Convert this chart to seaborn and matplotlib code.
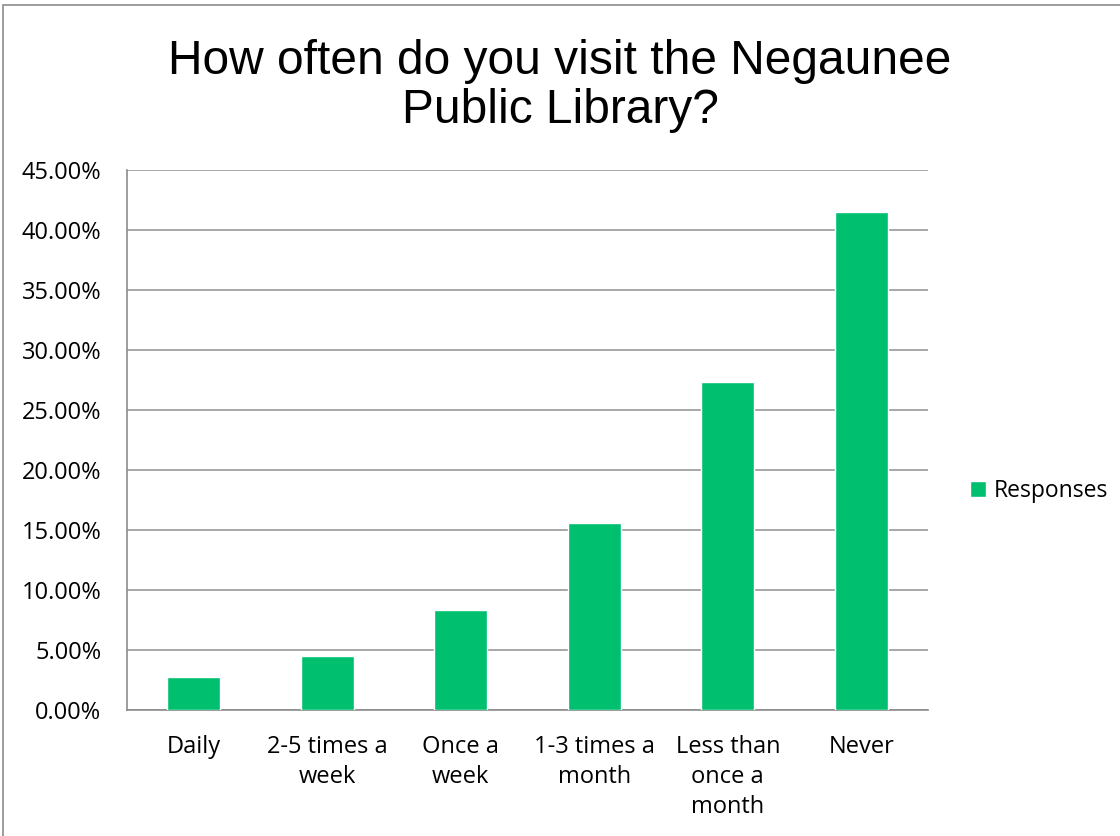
import matplotlib
matplotlib.use("Agg")
import matplotlib.pyplot as plt
import seaborn as sns
import pandas as pd
from matplotlib.patches import Rectangle
from matplotlib.ticker import PercentFormatter, FixedLocator

# ── Data ──────────────────────────────────────────────
categories = ["Daily", "2-5 times a\nweek", "Once a\nweek", "1-3 times a\nmonth",
              "Less than\nonce a\nmonth", "Never"]
responses = [0.0278, 0.0447, 0.0833, 0.1558, 0.2730, 0.4150]
title = "How often do you visit the Negaunee\nPublic Library?"
series_name = "Responses"

BAR_COLOR = "#00BF6F"
AXIS_GRAY = "#8C8C8C"

sns.set_theme(style="white")
plt.rcParams["font.family"] = ["Open Sans", "DejaVu Sans"]
plt.rcParams["text.color"] = "black"
plt.rcParams["xtick.labelcolor"] = "black"
plt.rcParams["ytick.labelcolor"] = "black"

df = pd.DataFrame({"category": categories, "value": responses})

fig = plt.figure(figsize=(11.2, 8.36), dpi=100)
ax = fig.add_axes([127 / 1120, 1 - 710 / 836, 801 / 1120, 540 / 836])

sns.barplot(data=df, x="category", y="value", color=BAR_COLOR, width=0.4,
            saturation=1, ax=ax, label=series_name, zorder=3)

ax.set_xlim(-0.5, len(categories) - 0.5)
ax.set_ylim(0, 0.45)
ax.set_yticks([i * 0.05 for i in range(10)])
ax.yaxis.set_major_formatter(PercentFormatter(xmax=1, decimals=2))
ax.grid(axis="y", color="#9A9A9A", linewidth=1.2, zorder=0)
ax.grid(axis="x", visible=False)

# category boundaries get tick marks, labels sit in the middle
ax.xaxis.set_minor_locator(FixedLocator([i - 0.5 for i in range(len(categories) + 1)]))
ax.tick_params(axis="x", which="minor", length=6, width=1.2, color=AXIS_GRAY, direction="out")
ax.tick_params(axis="x", which="major", length=0, pad=18, labelsize=17)
ax.tick_params(axis="y", length=6.5, width=1.2, color=AXIS_GRAY, direction="out",
               pad=12, labelsize=17)
plt.setp(ax.get_xticklabels(), linespacing=1.32)
ax.set_xlabel("")
ax.set_ylabel("")

for side in ["top", "right"]:
    ax.spines[side].set_visible(False)
for side in ["left", "bottom"]:
    ax.spines[side].set_color(AXIS_GRAY)
    ax.spines[side].set_linewidth(1.2)

fig.text(0.5, 1 - 86 / 836, title, ha="center", va="center", fontsize=34.5,
         family=["Liberation Sans", "DejaVu Sans"], linespacing=1.1)

handles, labels = ax.get_legend_handles_labels()
if ax.get_legend() is not None:
    ax.get_legend().remove()
fig.legend(handles[:1], labels[:1], loc="center left",
           bbox_to_anchor=(970 / 1120, 1 - 491 / 836), frameon=False,
           fontsize=16.5, handlelength=0.68, handleheight=0.68,
           handletextpad=0.35, borderpad=0, borderaxespad=0)

# outer chart border
fig.add_artist(Rectangle((3 / 1120, -0.1), 1.2, 1.1 - 5 / 836,
                         transform=fig.transFigure, fill=False,
                         edgecolor="#8C8C8C", linewidth=1.2))

fig.savefig("out.png", dpi=100)
plt.close()
